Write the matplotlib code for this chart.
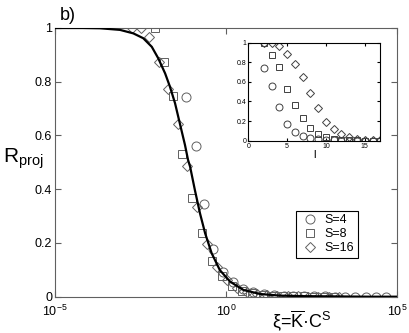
import matplotlib
matplotlib.use("Agg")
import matplotlib.pyplot as plt
import numpy as np

plt.rcParams['font.family'] = ['Liberation Sans', 'DejaVu Sans']
plt.rcParams['mathtext.default'] = 'regular'

# main panel: log10(xi) and R_proj
curve_logx = [-5.0, -4.2, -3.68, -3.1, -2.71, -2.42, -2.17, -1.98, -1.78, -1.64, -1.49,
              -1.35, -1.2, -1.11, -1.05, -0.91, -0.76, -0.61, -0.42, -0.18, 0.12, 0.51,
              1.0, 1.58, 2.3, 3.2, 4.2, 5.0]
curve_r = [1.0, 1.0, 0.999, 0.993, 0.98, 0.962, 0.93, 0.887, 0.831, 0.782, 0.72,
           0.645, 0.565, 0.509, 0.484, 0.397, 0.31, 0.236, 0.162, 0.099, 0.056, 0.025,
           0.01, 0.004, 0.002, 0.001, 0.0, 0.0]

s4_logx = [-1.16, -0.88, -0.64, -0.37, -0.08, 0.21, 0.5, 0.8, 1.1, 1.4, 1.7, 1.97,
           2.27, 2.57, 2.89, 3.19, 3.49, 3.78, 4.09, 4.39, 4.68]
s4_r = [0.744, 0.561, 0.346, 0.176, 0.093, 0.056, 0.03, 0.018, 0.01, 0.006, 0.004, 0.003,
        0.002, 0.001, 0.001, 0.0, 0.0, 0.0, 0.0, 0.0, 0.0]

s8_logx = [-2.07, -1.8, -1.55, -1.28, -1.0, -0.71, -0.42, -0.13, 0.17, 0.47, 0.77, 1.07,
           1.37, 1.67, 1.97, 2.27, 2.57, 2.87, 3.17]
s8_r = [1.0, 0.872, 0.748, 0.53, 0.366, 0.236, 0.133, 0.077, 0.04, 0.022, 0.012, 0.007,
        0.004, 0.002, 0.001, 0.001, 0.0, 0.0, 0.0]

s16_logx = [-2.75, -2.49, -2.24, -1.97, -1.71, -1.41, -1.14, -0.84, -0.55, -0.27, 0.02, 0.31,
            0.6, 0.9, 1.2, 1.5, 1.8, 2.1, 2.4, 2.7, 3.0, 3.3]
s16_r = [1.0, 1.0, 0.968, 0.872, 0.772, 0.643, 0.486, 0.333, 0.195, 0.112, 0.062, 0.031,
         0.018, 0.01, 0.006, 0.003, 0.002, 0.001, 0.0, 0.0, 0.0, 0.0]

# inset: R_proj against l
inset_l = list(range(2, 18))
inset_s4 = [0.745, 0.56, 0.34, 0.17, 0.085, 0.048, 0.024, 0.013, 0.006, 0.003, 0.002,
            0.001, 0.0, 0.0, 0.0, 0.0]
inset_s8 = [1.0, 0.877, 0.75, 0.527, 0.36, 0.23, 0.125, 0.07, 0.04, 0.02, 0.01, 0.005,
            0.003, 0.001, 0.0, 0.0]
inset_s16 = [1.0, 1.0, 0.966, 0.884, 0.78, 0.646, 0.49, 0.333, 0.187, 0.116, 0.065, 0.034,
             0.02, 0.01, 0.005, 0.003]

gray = '#606060'
fig = plt.figure(figsize=(4.09, 3.33), dpi=100)
ax = fig.add_axes([55 / 409, 1 - 296.7 / 333, 342 / 409, 268.7 / 333])

ax.plot(10 ** np.array(curve_logx), curve_r, color='black', lw=1.6, zorder=3)
mk = dict(ls='none', mfc='none', mec=gray, mew=0.7)
ax.plot(10 ** np.array(s4_logx), s4_r, marker='o', ms=6.5, label='S=4', **mk)
ax.plot(10 ** np.array(s8_logx), s8_r, marker='s', ms=5.5, label='S=8', **mk)
ax.plot(10 ** np.array(s16_logx), s16_r, marker='D', ms=5.2, label='S=16', **mk)

ax.set_xscale('log')
ax.set_xlim(1e-5, 1e5)
ax.set_ylim(0, 1)
ax.set_xticks([1e-5, 1e0, 1e5])
ax.set_xticklabels([r'$10^{-5}$', r'$10^{0}$', r'$10^{5}$'])
ax.minorticks_off()
ax.set_yticks([0, 0.2, 0.4, 0.6, 0.8, 1])
ax.set_yticklabels(['0', '0.2', '0.4', '0.6', '0.8', '1'])
ax.tick_params(direction='in', length=4, color=gray, labelsize=9, top=True, right=True, pad=2)
ax.tick_params(axis='x', pad=5)
for sp in ax.spines.values():
    sp.set_color(gray)

leg = ax.legend(loc='upper left', bbox_to_anchor=(296 / 409, 1 - 210.7 / 333),
                bbox_transform=fig.transFigure, borderaxespad=0, fancybox=False,
                edgecolor='black', fontsize=9, handletextpad=0.4, borderpad=0.3,
                labelspacing=0.15, handlelength=1.6, framealpha=1)
leg.get_frame().set_linewidth(0.8)

fig.text(3 / 409, 1 - 163 / 333, r'R$_{proj}$', fontsize=15, va='baseline')
fig.text(60 / 409, 1 - 20 / 333, 'b)', fontsize=13, va='baseline')
fig.text(272 / 409, 1 - 327 / 333, r'ξ=$\overline{K}$·C$^{S}$', fontsize=13, va='baseline')

# inset
ins = fig.add_axes([248.3 / 409, 1 - 140.7 / 333, 132 / 409, 98 / 333])
mk2 = dict(ls='none', mfc='none', mec='#404040', mew=0.7)
ins.plot(inset_l, inset_s4, marker='o', ms=5, **mk2)
ins.plot(inset_l, inset_s8, marker='s', ms=4, **mk2)
ins.plot(inset_l, inset_s16, marker='D', ms=4.5, **mk2)
ins.set_xlim(0, 17)
ins.set_ylim(0, 1)
ins.set_xticks([0, 5, 10, 15])
ins.set_yticks([0, 0.2, 0.4, 0.6, 0.8, 1])
ins.set_yticklabels(['0', '0.2', '0.4', '0.6', '0.8', '1'])
ins.tick_params(direction='in', length=2.5, labelsize=5, pad=1.5, top=True, right=True)
ins.set_xlabel('l', fontsize=8, labelpad=0)

fig.savefig('out.png', dpi=100)
